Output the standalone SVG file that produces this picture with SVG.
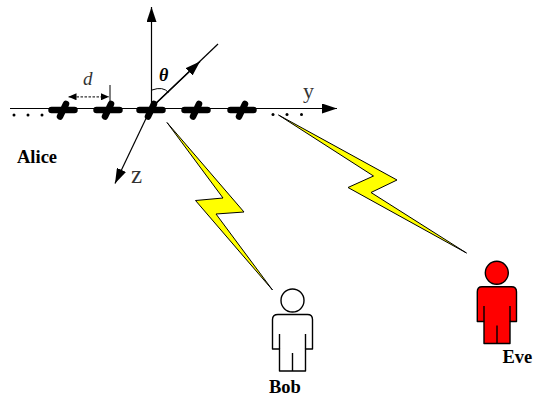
<svg xmlns="http://www.w3.org/2000/svg" width="533" height="397" viewBox="0 0 533 397">
<style>
text{font-family:"Liberation Serif","Times New Roman",serif;fill:#000}
.b{font-weight:bold;font-size:18.500px}
.t{fill:#333}
.ax{stroke:#000;stroke-width:1.200;fill:none}
.arm{stroke:#000;stroke-width:6.500;stroke-linecap:round;fill:none}
.bolt{fill:#ffff00;stroke:#000;stroke-width:1;stroke-linejoin:miter}
.p{stroke:#000;stroke-width:1.400;stroke-linejoin:round}
</style>
<defs>
<marker id="ah" markerUnits="userSpaceOnUse" markerWidth="15" markerHeight="10" refX="15" refY="5" orient="auto"><path d="M0 0L15 5L0 10Z" fill="#000"/></marker>
<marker id="sm" markerUnits="userSpaceOnUse" markerWidth="8" markerHeight="7" refX="8" refY="3.500" orient="auto-start-reverse"><path d="M0 0L8 3.500L0 7Z" fill="#000"/></marker>
<g id="cross"><path class="arm" d="M-11.500 0H11.500M3 -6L-3 6.500"/></g>
</defs>
<g id="connectors">
<path class="ax" d="M10 108.500H337" marker-end="url(#ah)"/>
<path class="ax" d="M151.500 108V7" marker-end="url(#ah)"/>
<path class="ax" d="M151 108L218 44"/>
<path class="ax" d="M151 108L200 61.500" marker-end="url(#ah)"/>
<path class="ax" d="M151 108L115 183.500" marker-end="url(#ah)"/>
<path d="M110 85V108" stroke="#000" stroke-width="1" fill="none"/>
<path d="M68.500 96.800H109" stroke="#333" stroke-width="1.200" stroke-dasharray="2.500 1.500" fill="none" marker-start="url(#sm)" marker-end="url(#sm)"/>
<path d="M152 90Q163 86 168.500 92.500" stroke="#000" stroke-width="1" fill="none"/>
<polygon class="bolt" points="167,122.500 244,212 216,214 272.500,290 195.500,200.500 223,198"/>
<polygon class="bolt" points="278.500,115 397,180 371,192.500 466.500,253 348,187.500 373.500,176"/>
</g>
<g id="array">
<use href="#cross" x="63" y="110"/>
<use href="#cross" x="108" y="110"/>
<use href="#cross" x="151" y="110"/>
<use href="#cross" x="196" y="110"/>
<use href="#cross" x="242" y="110"/>
<g fill="#000">
<circle cx="14" cy="115" r="1.500"/><circle cx="28" cy="115" r="1.500"/><circle cx="42" cy="115" r="1.500"/>
<circle cx="273" cy="114.500" r="1.500"/><circle cx="287" cy="114.500" r="1.500"/><circle cx="301.500" cy="114.500" r="1.500"/>
</g>
</g>
<g id="labels">
<text class="t" x="83" y="84.500" font-size="19" font-style="italic">d</text>
<text x="159" y="81" font-size="18" font-weight="bold" font-style="italic">θ</text>
<text class="t" x="303" y="98" font-size="22">y</text>
<text class="t" x="131" y="183" font-size="25">z</text>
</g>
<g id="alice"><text class="b" x="17" y="162.500">Alice</text></g>
<g id="bob">
<circle class="p" cx="292.500" cy="300.500" r="11.500" fill="#fff"/>
<path class="p" fill="#fff" d="M278 314.500H307.500Q312.500 314.500 312.500 319.500V349H305.500V371H279.500V349H272.500V319.500Q272.500 314.500 278 314.500Z"/>
<path class="p" fill="none" d="M279.500 334V349M305.500 334V349M292.500 353V371"/>
<text class="b" x="269" y="392.500">Bob</text>
</g>
<g id="eve">
<circle class="p" cx="496.800" cy="272.800" r="11.500" fill="#ff0000"/>
<path class="p" fill="#ff0000" d="M482 286.800H511.500Q516.500 286.800 516.500 291.800V321.500H510V343.500H484V321.500H477.300V291.800Q477.300 286.800 482 286.800Z"/>
<path class="p" fill="none" d="M484 306V321.500M510 306V321.500M497 325.500V343.500"/>
<text class="b" x="502.500" y="363">Eve</text>
</g>
</svg>
